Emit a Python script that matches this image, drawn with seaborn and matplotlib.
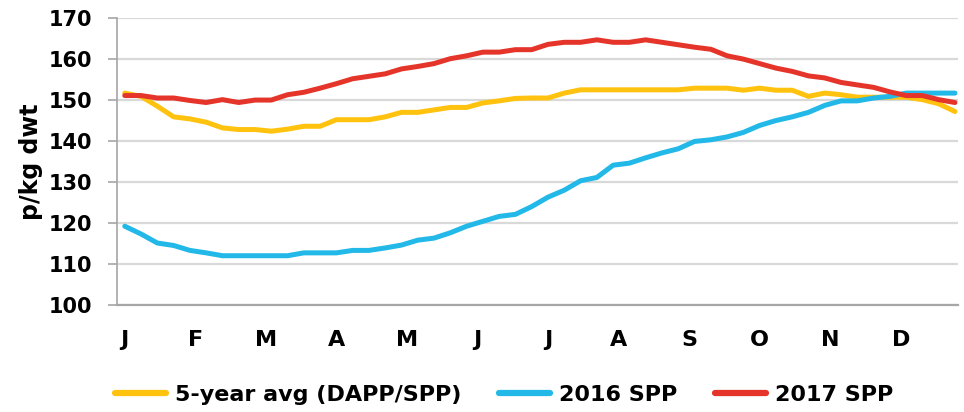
import numpy as np
import pandas as pd
import seaborn as sns
import matplotlib.pyplot as plt

###### Données (une valeur par semaine) ######

avg_5y = [151.7, 150.9, 148.5, 145.9, 145.4, 144.6, 143.2, 142.8, 142.8, 142.4,
          142.9, 143.6, 143.6, 145.2, 145.2, 145.2, 145.9, 147.0, 147.0, 147.6,
          148.2, 148.2, 149.3, 149.8, 150.4, 150.5, 150.5, 151.7, 152.5, 152.5,
          152.5, 152.5, 152.5, 152.5, 152.5, 152.9, 152.9, 152.9, 152.4, 152.9,
          152.4, 152.4, 150.9, 151.7, 151.3, 150.7, 150.7, 150.7, 150.7, 150.1,
          149.1, 147.2]
spp_2016 = [119.2, 117.3, 115.1, 114.5, 113.3, 112.7, 112.0, 112.0, 112.0, 112.0,
            112.0, 112.7, 112.7, 112.7, 113.3, 113.3, 113.9, 114.6, 115.8, 116.3,
            117.6, 119.2, 120.4, 121.6, 122.1, 124.0, 126.3, 128.0, 130.3, 131.1,
            134.1, 134.6, 135.9, 137.1, 138.1, 139.9, 140.3, 141.0, 142.1, 143.8,
            145.0, 145.9, 147.0, 148.7, 149.8, 149.8, 150.5, 150.9, 151.7, 151.7,
            151.7, 151.7]
spp_2017 = [151.1, 151.1, 150.5, 150.5, 149.9, 149.4, 150.1, 149.4, 150.0, 150.0,
            151.3, 151.9, 152.9, 154.0, 155.2, 155.8, 156.4, 157.6, 158.2, 158.9,
            160.1, 160.8, 161.7, 161.7, 162.3, 162.3, 163.6, 164.1, 164.1, 164.7,
            164.1, 164.1, 164.7, 164.1, 163.5, 162.9, 162.4, 160.8, 160.0, 158.9,
            157.8, 157.0, 155.9, 155.4, 154.3, 153.7, 153.1, 152.0, 151.1, 151.1,
            150.1, 149.4]

series_names = ['5-year avg (DAPP/SPP)', '2016 SPP', '2017 SPP']
series_colors = ['#FFC20E', '#22B8E8', '#E5352A']
month_labels = ['J', 'F', 'M', 'A', 'M', 'J', 'J', 'A', 'S', 'O', 'N', 'D']
y_ticks = [100, 110, 120, 130, 140, 150, 160, 170]

###### Mise en forme ######

weeks = np.arange(len(avg_5y))
df = pd.DataFrame({
    'semaine': np.concatenate([weeks, weeks, weeks]),
    'valeur': avg_5y + spp_2016 + spp_2017,
    'serie': [series_names[0]] * len(weeks) + [series_names[1]] * len(weeks) + [series_names[2]] * len(weeks),
})

sns.set_style('white')
plt.rcParams['font.family'] = ['DejaVu Sans']
plt.rcParams['font.weight'] = 'bold'
plt.rcParams['text.color'] = 'black'
plt.rcParams['xtick.color'] = 'black'
plt.rcParams['ytick.color'] = 'black'
plt.rcParams['axes.labelcolor'] = 'black'

fig = plt.figure(figsize=(9.64, 4.12), dpi=100)
ax = fig.add_axes([0.121, 0.26, 0.873, 0.696])

sns.lineplot(data=df, x='semaine', y='valeur', hue='serie', hue_order=series_names,
             palette=series_colors, linewidth=3.6, ax=ax, legend=True)

ax.set_ylim(100, 170)
ax.set_xlim(-0.5, 51.2)
ax.set_yticks(y_ticks)
ax.set_yticklabels([str(t) for t in y_ticks], fontsize=15, fontweight='bold')
ax.set_xticks([i * 52 / 12 for i in range(12)])
ax.set_xticklabels(month_labels, fontsize=16, fontweight='bold')
ax.tick_params(axis='x', length=0, pad=18, labelcolor='black')
ax.tick_params(axis='y', left=True, length=6.5, width=1.2, color='#A6A6A6', pad=11,
               direction='out', labelcolor='black')

ax.grid(axis='y', color='#D9D9D9', linewidth=1.6)
ax.set_axisbelow(True)
for side in ['top', 'right']:
    ax.spines[side].set_visible(False)
ax.spines['left'].set_color('#A6A6A6')
ax.spines['left'].set_linewidth(1.2)
ax.spines['bottom'].set_color('#A6A6A6')
ax.spines['bottom'].set_linewidth(1.6)

ax.set_xlabel('')
ax.set_ylabel('p/kg dwt', fontsize=17, fontweight='bold', labelpad=4, color='black')

leg = ax.legend(loc='center', bbox_to_anchor=(0.46, -0.314), ncol=3, frameon=False,
                prop={'size': 16, 'weight': 'bold'}, handlelength=2.3, columnspacing=1.7,
                handletextpad=0.4)
for line in leg.get_lines():
    line.set_linewidth(4.5)
    line.set_solid_capstyle('round')
for txt in leg.get_texts():
    txt.set_color('black')

plt.savefig('out.png', dpi=100)
plt.close()
